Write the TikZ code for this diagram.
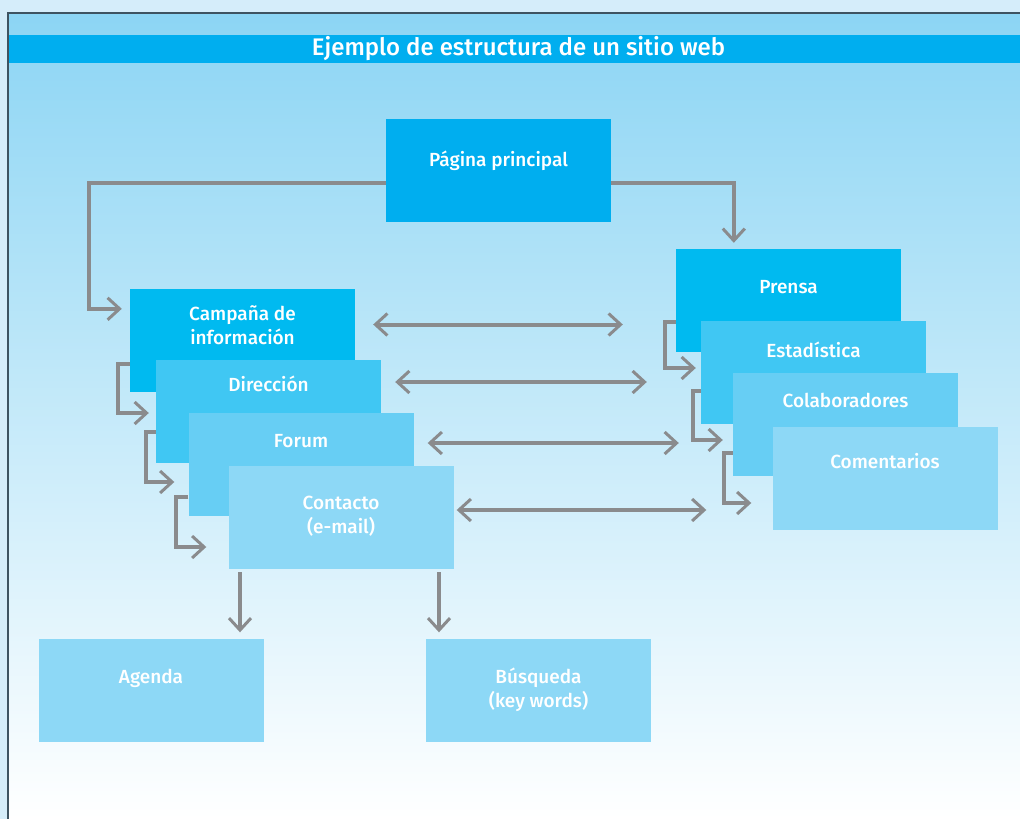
\documentclass[tikz,border=0pt]{standalone}
\usepackage{fontspec}
\setmainfont{Fira Sans}[BoldFont={* Medium}]
\usetikzlibrary{arrows.meta}

\definecolor{pagecol}{HTML}{D5EDFA}
\definecolor{framecol}{HTML}{3E5361}
\definecolor{bgtop}{HTML}{8CD5F4}
\definecolor{titlecol}{HTML}{00AEEF}
\definecolor{mainblue}{HTML}{00AEEF}
\definecolor{levA}{HTML}{00BAF0}
\definecolor{levB}{HTML}{40C7F3}
\definecolor{levC}{HTML}{67CEF4}
\definecolor{levD}{HTML}{8DD8F6}
\definecolor{linkcol}{HTML}{8A8B8D}

\begin{document}
\begin{tikzpicture}[x=1pt,y=-1pt,
  box/.style={rectangle,inner sep=0pt,minimum width=225pt,minimum height=103pt},
  lbl/.style={text=white,font=\bfseries\fontsize{19}{24}\selectfont,align=center,inner sep=0pt,anchor=base},
  link/.style={draw=linkcol,line width=4pt},
  linkto/.style={-{Straight Barb[length=12pt,width=22pt,line width=3pt]}},
  linkboth/.style={{Straight Barb[length=12pt,width=22pt,line width=3pt]}-{Straight Barb[length=12pt,width=22pt,line width=3pt]}}]
\useasboundingbox (0,0) rectangle (1020,819);
\fill[pagecol] (0,0) rectangle (1020,819);
\shade[top color=bgtop,bottom color=white] (8,13) rectangle (1020,819);
\draw[framecol,line width=1.5pt] (8,819) -- (8,13) -- (1020,13);

\node[rectangle,fill=titlecol,inner sep=0pt,minimum width=1019pt,minimum height=28pt,
  text=white,font=\bfseries\fontsize{24}{28}\selectfont] (tit) at (518.5,49)
  {Ejemplo de estructura de un sitio web};

% home page
\node[box,fill=mainblue,label={[lbl,yshift=-48pt]north:Página principal}] (pag) at (498.5,170.5) {};

% left stack
\node[box,fill=levA,label={[lbl,yshift=-56pt]north:Campaña de\\información}] (camp) at (242.5,340.5) {};
\node[box,fill=levB,label={[lbl,yshift=-32pt]north:Dirección}] (dir) at (268.5,411.5) {};
\node[box,fill=levC,label={[lbl,yshift=-35pt]north:Forum}] (foro) at (301,464) {};
\node[box,fill=levD,label={[lbl,yshift=-68pt]north:Contacto\\(e-mail)}] (cont) at (341,517.5) {};

% right stack
\node[box,fill=levA,label={[lbl,yshift=-45pt]north:Prensa}] (pre) at (788.5,300.5) {};
\node[box,fill=levB,label={[lbl,yshift=-37pt]north:Estadística}] (esta) at (813.5,372) {};
\node[box,fill=levC,label={[lbl,yshift=-35pt]north:Colaboradores}] (cola) at (845.5,424.5) {};
\node[box,fill=levD,label={[lbl,yshift=-42pt]north:Comentarios}] (come) at (885,478.5) {};

% bottom row
\node[box,fill=levD,label={[lbl,yshift=-45pt]north:Agenda}] (agen) at (151,690) {};
\node[box,fill=levD,label={[lbl,yshift=-69pt]north:Búsqueda\\(key words)}] (busq) at (538.5,690) {};

% from the home page
\draw[link,linkto] ([yshift=-12pt]pag.west) -| ([xshift=-41pt]camp.north west)
  |- ([xshift=-8pt,yshift=-20pt]camp.north west);
\draw[link,linkto] ([yshift=-12pt]pag.east) -| ([xshift=58pt,yshift=6pt]pre.north west);

% left to right
\draw[link,linkboth] ([xshift=18pt,yshift=16pt]camp.east) -- ([xshift=-53pt,yshift=-24pt]pre.west);
\draw[link,linkboth] ([xshift=14pt,yshift=29.5pt]dir.east) -- ([xshift=-54pt,yshift=-10pt]esta.west);
\draw[link,linkboth] ([xshift=14pt,yshift=21pt]foro.east) -- ([xshift=-54pt,yshift=-18.5pt]cola.west);
\draw[link,linkboth] ([xshift=3pt,yshift=7.5pt]cont.east) -- ([xshift=-66pt,yshift=-31.5pt]come.west);

% down the stacks
\draw[link,linkto] ([yshift=28pt]camp.south west) -- ++(-12,0) |- ([xshift=-7pt,yshift=-1.5pt]dir.west);
\draw[link,linkto] ([yshift=31pt]dir.south west) -- ++(-10,0) |- ([xshift=-14pt,yshift=-18pt]foro.west);
\draw[link,linkto] ([yshift=19pt]foro.south west) -- ++(-12,0) |- ([xshift=-22pt,yshift=-29.5pt]cont.west);
\draw[link,linkto] ([yshift=30pt]pre.south west) -- ++(-11,0) |- ([xshift=-5pt,yshift=4pt]esta.west);
\draw[link,linkto] ([yshift=33pt]esta.south west) -- ++(-8,0) |- ([xshift=-10pt,yshift=-15.5pt]cola.west);
\draw[link,linkto] ([yshift=23pt]cola.south west) -- ++(-9,0) |- ([xshift=-21pt,yshift=-24.5pt]come.west);

% bottom row
\draw[link,linkto] ([xshift=-101pt,yshift=-3pt]cont.south) -- ([xshift=89pt,yshift=6pt]agen.north);
\draw[link,linkto] ([xshift=98pt,yshift=-3pt]cont.south) -- ([xshift=-99.5pt,yshift=6pt]busq.north);
\end{tikzpicture}
\end{document}
